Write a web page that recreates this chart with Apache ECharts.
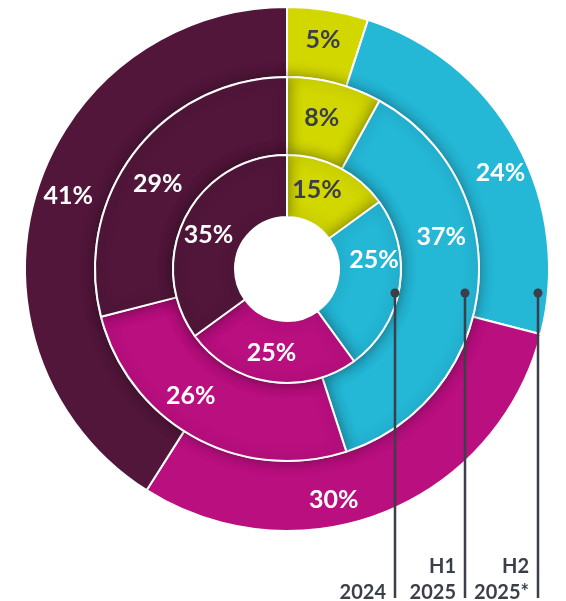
<!DOCTYPE html>
<html>
<head>
<meta charset="utf-8">
<script src="https://cdn.jsdelivr.net/npm/echarts@6/dist/echarts.min.js"></script>
<style>
  html, body { margin: 0; padding: 0; background: #fff; }
  #chart { width: 566px; height: 601px; }
</style>
</head>
<body>
<div id="chart"></div>
<script>
// segment order runs clockwise from 12 o'clock
var segments = ['A', 'B', 'C', 'D']
var colors = ['#d2d700', '#24b7d6', '#b90f7f', '#51163a']
var values2024 = [15, 25, 25, 35]
var valuesH1 = [8, 37, 26, 29]
var valuesH2 = [5, 24, 30, 41]
var periodTop = ['', 'H1', 'H2']
var periodBottom = ['2024', '2025', '2025*']

var center = [287, 269]
var textDark = '#3a3f49'

// label nudges (px) away from the default mid-sector position
var nudgeH2 = [[0, -2], [12, 15], [-38, 17], [2, -9]]
var nudgeH1 = [[-4, 0], [-1, -47], [-21, -10], [-6, 11]]
var nudge2024 = [[-9, -2], [2, -23], [-2, -1], [-2, 5]]

function ring(name, values, radius, withShadow, nudge) {
  return {
    name: name,
    type: 'pie',
    center: center,
    radius: radius,
    startAngle: 90,
    clockwise: true,
    silent: true,
    animation: false,
    label: {
      show: true,
      position: 'inside',
      formatter: '{c}%',
      fontFamily: 'Lato',
      fontWeight: 'bold',
      fontSize: 25,
      color: '#fff'
    },
    labelLine: { show: false },
    labelLayout: function (p) {
      var n = nudge[p.dataIndex]
      return { dx: n[0], dy: n[1] }
    },
    data: values.map(function (v, i) {
      return {
        name: segments[i],
        value: v,
        itemStyle: { color: colors[i] },
        label: i === 0 ? { color: textDark } : undefined
      }
    }),
    itemStyle: {
      borderColor: '#fff',
      borderWidth: 2,
      shadowColor: withShadow ? 'rgba(0,0,0,0.35)' : 'transparent',
      shadowBlur: withShadow ? 14 : 0
    }
  }
}

// leader lines with dots for each ring (annotation)
var anchorX = [395, 465, 538]
var dotY = 293
var lineEnd = 598
var graphics = []
anchorX.forEach(function (x, i) {
  graphics.push({
    type: 'line',
    shape: { x1: x, y1: dotY, x2: x, y2: lineEnd },
    style: { stroke: textDark, lineWidth: 2.5 },
    z: 100
  })
  graphics.push({
    type: 'circle',
    shape: { cx: x, cy: dotY, r: 4.5 },
    style: { fill: textDark },
    z: 100
  })
  var lines = [[periodTop[i], 567], [periodBottom[i], 592.5]]
  lines.forEach(function (ln) {
    if (!ln[0]) return
    graphics.push({
      type: 'text',
      x: x - 9,
      y: ln[1],
      style: {
        text: ln[0],
        align: 'right',
        verticalAlign: 'middle',
        fontFamily: 'Lato',
        fontWeight: 'bold',
        fontSize: 20,
        fill: textDark
      },
      z: 100
    })
  })
})

var chart = echarts.init(document.getElementById('chart'))
chart.setOption({
  backgroundColor: '#fff',
  series: [
    ring('H2 2025*', valuesH2, [192, 262], false, nudgeH2),
    ring('H1 2025', valuesH1, [114, 192], true, nudgeH1),
    ring('2024', values2024, [52, 114], true, nudge2024),
    {
      // white hub over the centre
      type: 'pie',
      center: center,
      radius: [0, 52],
      silent: true,
      animation: false,
      label: { show: false },
      data: [{ value: 1, itemStyle: { color: '#fff' } }]
    }
  ],
  graphic: graphics
})
</script>
</body>
</html>
